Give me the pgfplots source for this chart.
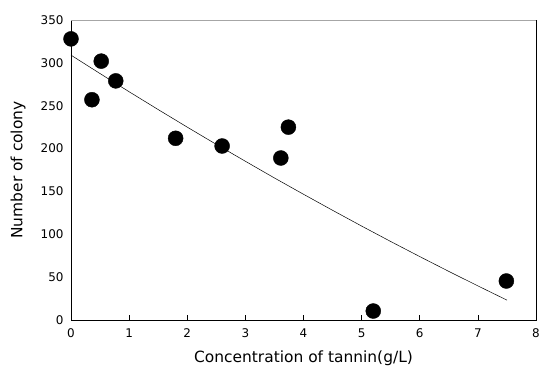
\documentclass[border=0pt]{standalone}
\usepackage{pgfplots}
\pgfplotsset{compat=1.18}
\usepackage{fontspec}
\setmainfont{DejaVu Sans}
\begin{document}
\begin{tikzpicture}
\begin{axis}[
  scale only axis,
  width=465bp, height=300bp,
  xmin=0, xmax=8, ymin=0, ymax=350,
  xtick={0,1,...,8}, ytick={0,50,...,350},
  /pgf/number format/assume math mode=true,
  tick label style={font=\fontsize{12}{13}\selectfont},
  label style={font=\fontsize{15.5}{17}\selectfont},
  xlabel={Concentration of tannin(g/L)},
  ylabel={Number of colony},
  xlabel style={at={(axis description cs:0.5,-0.127)}, anchor=center},
  ylabel style={at={(axis description cs:-0.114,0.5)}, anchor=center},
  yticklabel style={xshift=-4bp},
  xticklabel style={yshift=-5bp},
  axis line style={black, line width=0.9pt},
  tick align=inside,
  major tick length=5bp,
  xtick pos=bottom,
  ytick style={draw=none},
  x tick style={black, line width=0.6pt},
  clip=false,
]
\addplot[only marks, mark=*, mark size=7.5bp, black] coordinates {
(0,328) (0.36,257) (0.52,302) (0.77,279) (1.80,212) (2.60,203)
(3.61,189) (3.74,225) (5.20,10.5) (7.49,45.5)
};
\addplot[black, line width=0.5pt] coordinates {
(0,309) (0.5,287.5) (1,266.3) (1.5,245.5) (2,225.0) (2.5,204.9) (3,185.2)
(3.5,165.7) (4,146.7) (4.5,128.0) (5,109.6) (5.5,91.6) (6,74.0) (6.5,56.7)
(7,39.8) (7.5,23.2)
};
\draw[gray!70, line width=1pt] (rel axis cs:0,1) -- (rel axis cs:1,1);
\end{axis}
\pgfresetboundingbox
\path (current axis.south west) ++(-71bp,-54bp);
\path (current axis.north east) ++(6bp,20bp);
\end{tikzpicture}
\end{document}
